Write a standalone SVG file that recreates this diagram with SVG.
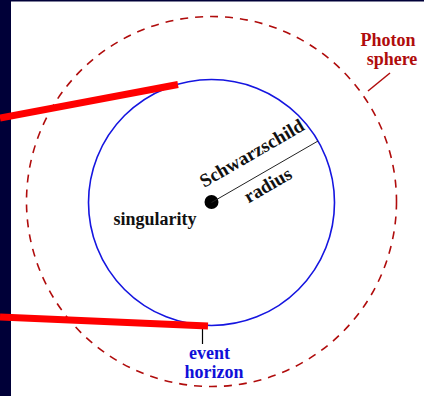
<svg xmlns="http://www.w3.org/2000/svg" width="424" height="396" viewBox="0 0 424 396">
<style>
.t{font-family:"Liberation Serif","Times New Roman",serif;font-weight:bold;font-size:18px}
.red{fill:#b00c0c}
.blue{fill:#1010d8}
.blk{fill:#111}
.ray{stroke:#ff0000;stroke-width:7;fill:none}
</style>
<rect x="0" y="0" width="424" height="396" fill="#ffffff"/>
<rect x="0" y="0" width="11" height="396" fill="#000038"/>
<rect x="0" y="0" width="424" height="1.5" fill="#000038"/>
<g id="photon-sphere">
<circle cx="211.5" cy="201.5" r="185" fill="none" stroke="#b00c0c" stroke-width="1.6" stroke-dasharray="8,7"/>
</g>
<g id="event-horizon">
<circle cx="211.5" cy="202.5" r="123" fill="none" stroke="#1515e0" stroke-width="1.6"/>
</g>
<g id="singularity">
<circle cx="211.5" cy="202" r="7" fill="#000"/>
<text class="t blk" x="155" y="225" text-anchor="middle">singularity</text>
</g>
<g id="connectors">
<line x1="211.5" y1="202.5" x2="318" y2="141" stroke="#222" stroke-width="1"/>
<line x1="202.5" y1="328" x2="202.5" y2="344" stroke="#000" stroke-width="1.2"/>
<line x1="390" y1="73" x2="368" y2="91" stroke="#b00c0c" stroke-width="1.5"/>
<line class="ray" x1="0" y1="118" x2="178" y2="84.5"/>
<line class="ray" x1="0" y1="317" x2="208" y2="326"/>
</g>
<g id="schwarzschild-radius">
<text class="t blk" style="font-size:19px" transform="translate(255,158.6) rotate(-30)" text-anchor="middle">Schwarzschild</text>
<text class="t blk" style="font-size:19px" transform="translate(271,190.5) rotate(-30)" text-anchor="middle">radius</text>
</g>
<g id="event-horizon-label">
<text class="t blue" x="209.5" y="359" text-anchor="middle">event</text>
<text class="t blue" x="214" y="378" text-anchor="middle">horizon</text>
</g>
<g id="photon-sphere-label">
<text class="t red" x="388" y="46" text-anchor="middle">Photon</text>
<text class="t red" x="392" y="65" text-anchor="middle">sphere</text>
</g>
</svg>
